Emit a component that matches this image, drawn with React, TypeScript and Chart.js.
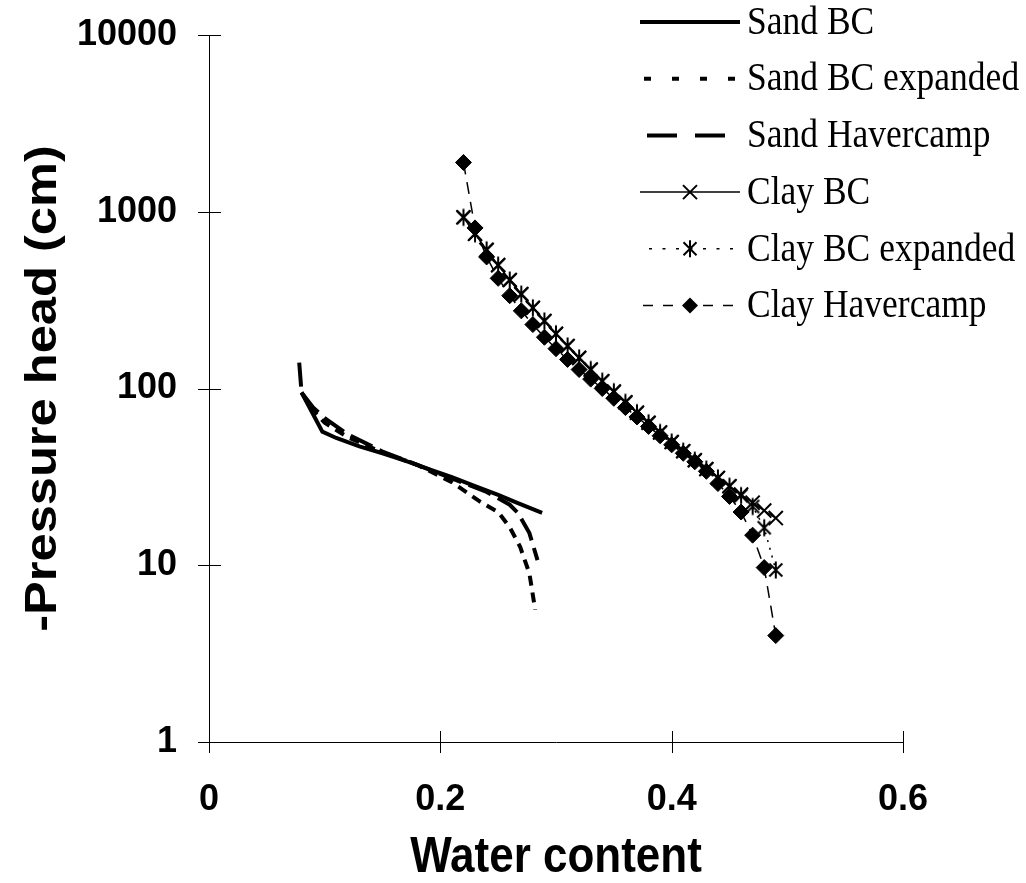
import React, { useEffect, useRef } from 'react';
import { Chart, registerables } from 'chart.js';

Chart.register(...registerables);

// ---------- data ----------
const clayTheta = [
  0.22, 0.23, 0.24, 0.25, 0.26, 0.27, 0.28, 0.29, 0.3, 0.31, 0.32, 0.33, 0.34, 0.35,
  0.36, 0.37, 0.38, 0.39, 0.4, 0.41, 0.42, 0.43, 0.44, 0.45, 0.46, 0.47, 0.48, 0.49,
];
const clayBCHead = [
  930, 750, 609, 499, 411, 342, 286, 241, 204, 174, 149, 128, 110, 96,
  83.5, 73, 64, 56.4, 49.8, 44.2, 39.3, 35, 31.2, 28, 25.1, 22.6, 20.4, 18.5,
];
const clayBCExpHead = [
  930, 750, 609, 499, 411, 342, 286, 241, 204, 174, 149, 128, 110, 96,
  83.5, 73, 64, 56.4, 49.8, 44.2, 39.3, 35, 31.2, 28, 24.8, 21.5, 16.3, 9.4,
];
const clayHavHead = [
  1900, 810, 555, 420, 335, 275, 230, 195, 168, 146, 128, 113, 100, 88,
  78, 69, 61, 54, 48, 43, 38.5, 34, 29, 24.5, 20, 14.8, 9.7, 4,
];

const sandBCTheta = [0.08, 0.098, 0.11, 0.13, 0.15, 0.17, 0.19, 0.21, 0.23, 0.25, 0.266, 0.288];
const sandBCHead = [95, 57, 52.5, 47, 43, 39, 35, 31.5, 28, 25, 22.6, 19.8];

const sandBCExpTheta = [0.08, 0.09, 0.1, 0.12, 0.15, 0.18, 0.21, 0.234, 0.25, 0.26, 0.269, 0.277, 0.282];
const sandBCExpHead = [95, 75, 64, 53, 43.5, 37, 29.5, 23, 20, 16.4, 12.7, 9, 5.6];

const sandHavTheta = [0.078, 0.08, 0.09, 0.1, 0.12, 0.15, 0.18, 0.21, 0.24, 0.26, 0.267, 0.277, 0.284];
const sandHavHead = [140, 95, 78, 68, 55, 44, 37, 31, 26, 22, 19.8, 15.2, 10.7];

const seriesNames = [
  'Sand BC',
  'Sand BC expanded',
  'Sand Havercamp',
  'Clay BC',
  'Clay BC expanded',
  'Clay Havercamp',
];

const xTicks = [0, 0.2, 0.4, 0.6];
const yTicks = [1, 10, 100, 1000, 10000];
const xTitle = 'Water content';
const yTitle = '-Pressure head (cm)';

// ---------- helpers ----------
const pts = (xs: number[], ys: number[]) => xs.map((x, i) => ({ x, y: ys[i] }));

function strokeAsterisk(ctx: CanvasRenderingContext2D, x: number, y: number, d: number, v: number) {
  ctx.moveTo(x - d, y - d);
  ctx.lineTo(x + d, y + d);
  ctx.moveTo(x - d, y + d);
  ctx.lineTo(x + d, y - d);
  ctx.moveTo(x, y - v);
  ctx.lineTo(x, y + v);
}

function makeAsteriskImage(): HTMLCanvasElement {
  const c = document.createElement('canvas');
  c.width = 20;
  c.height = 20;
  const g = c.getContext('2d')!;
  g.strokeStyle = '#000';
  g.lineWidth = 2;
  g.beginPath();
  strokeAsterisk(g, 10, 10, 6.5, 8.5);
  g.stroke();
  return c;
}

function drawMarker(ctx: CanvasRenderingContext2D, style: string, x: number, y: number) {
  ctx.save();
  ctx.setLineDash([]);
  ctx.strokeStyle = '#000';
  ctx.fillStyle = '#000';
  ctx.lineWidth = 2;
  ctx.beginPath();
  if (style === 'cross') {
    const d = 7;
    ctx.moveTo(x - d, y - d);
    ctx.lineTo(x + d, y + d);
    ctx.moveTo(x - d, y + d);
    ctx.lineTo(x + d, y - d);
    ctx.stroke();
  } else if (style === 'asterisk') {
    strokeAsterisk(ctx, x, y, 6.5, 8.5);
    ctx.stroke();
  } else if (style === 'diamond') {
    const r = 8;
    ctx.moveTo(x, y - r);
    ctx.lineTo(x + r, y);
    ctx.lineTo(x, y + r);
    ctx.lineTo(x - r, y);
    ctx.closePath();
    ctx.fill();
  }
  ctx.restore();
}

const SANS = "'Liberation Sans', Arial, sans-serif";
const TITLE_FONT = `bold 44px ${SANS}`;
const LEGEND_FONT = "35.5px 'Liberation Serif', 'Times New Roman', serif";
const STRETCH = 1.15;

const legendMarkers = ['', '', '', 'cross', 'asterisk', 'diamond'];
const legendDash = [[], [7, 21], [30, 18], [], [3, 10.5], [10, 10]];
const legendDashOffset = [0, 24, 41, 0, 4.5, 17];

const decorPlugin = {
  id: 'decor',
  afterDraw(chart: any) {
    const ctx: CanvasRenderingContext2D = chart.ctx;
    const area = chart.chartArea;
    const xs = chart.scales.x;
    const ys = chart.scales.y;
    ctx.save();
    // tick marks crossing the axes
    ctx.strokeStyle = '#000';
    ctx.lineWidth = 1;
    ctx.setLineDash([]);
    ctx.beginPath();
    yTicks.forEach((v) => {
      const py = Math.round(ys.getPixelForValue(v)) + 0.5;
      ctx.moveTo(area.left - 11, py);
      ctx.lineTo(area.left + 12, py);
    });
    xTicks.forEach((v) => {
      const px = Math.round(xs.getPixelForValue(v)) + 0.5;
      ctx.moveTo(px, area.bottom - 11);
      ctx.lineTo(px, area.bottom + 11);
    });
    ctx.stroke();

    // axis titles
    ctx.fillStyle = '#000';
    ctx.font = TITLE_FONT;
    ctx.textAlign = 'center';
    ctx.textBaseline = 'middle';
    ctx.save();
    ctx.translate((area.left + area.right) / 2, 858);
    ctx.scale(1, STRETCH);
    ctx.fillText(xTitle, 0, 0);
    ctx.restore();
    ctx.save();
    ctx.translate(44, (area.top + area.bottom) / 2);
    ctx.rotate(-Math.PI / 2);
    ctx.scale(STRETCH, 1);
    ctx.fillText(yTitle, 0, 0);
    ctx.restore();

    // legend
    ctx.font = LEGEND_FONT;
    ctx.textAlign = 'left';
    ctx.textBaseline = 'middle';
    chart.data.datasets.forEach((ds: any, i: number) => {
      const cy = 22 + i * 56.7;
      const x0 = 640;
      const x1 = 740;
      ctx.save();
      ctx.strokeStyle = '#000';
      ctx.lineWidth = ds.borderWidth;
      ctx.setLineDash(legendDash[i]);
      ctx.lineDashOffset = legendDashOffset[i];
      ctx.beginPath();
      ctx.moveTo(x0, cy);
      ctx.lineTo(x1, cy);
      ctx.stroke();
      ctx.restore();
      if (legendMarkers[i]) drawMarker(ctx, legendMarkers[i], 690, cy);
      ctx.save();
      ctx.translate(747, cy + 1);
      ctx.scale(1, STRETCH);
      ctx.fillText(ds.label, 0, 0);
      ctx.restore();
    });
    ctx.restore();
  },
};

export default function App() {
  const ref = useRef<HTMLCanvasElement | null>(null);

  useEffect(() => {
    if (!ref.current) return;
    const asterisk = makeAsteriskImage();
    const common = { showLine: true, borderColor: '#000', backgroundColor: '#000', pointBorderColor: '#000', pointBackgroundColor: '#000' };
    const chart = new Chart(ref.current, {
      type: 'scatter',
      data: {
        datasets: [
          { ...common, label: seriesNames[0], data: pts(sandBCTheta, sandBCHead), borderWidth: 4, borderDash: [], pointRadius: 0 },
          { ...common, label: seriesNames[1], data: pts(sandBCExpTheta, sandBCExpHead), borderWidth: 4, borderDash: [10, 7], pointRadius: 0 },
          { ...common, label: seriesNames[2], data: pts(sandHavTheta, sandHavHead), borderWidth: 4, borderDash: [24, 8], pointRadius: 0 },
          { ...common, label: seriesNames[3], data: pts(clayTheta, clayBCHead), borderWidth: 1.5, borderDash: [], pointStyle: 'crossRot', pointRadius: 10, pointBorderWidth: 2 },
          { ...common, label: seriesNames[4], data: pts(clayTheta, clayBCExpHead), borderWidth: 1.5, borderDash: [2, 6], pointStyle: asterisk, pointRadius: 9 },
          { ...common, label: seriesNames[5], data: pts(clayTheta, clayHavHead), borderWidth: 1.5, borderDash: [12, 8], pointStyle: 'rectRot', pointRadius: 8, pointBorderWidth: 1 },
        ] as any,
      },
      options: {
        animation: false,
        responsive: true,
        maintainAspectRatio: false,
        layout: { padding: { top: 35, right: 123, left: 0, bottom: 0 } },
        plugins: { legend: { display: false }, tooltip: { enabled: false }, title: { display: false } },
        elements: { line: { tension: 0 } },
        scales: {
          x: {
            type: 'linear',
            min: 0,
            max: 0.6,
            afterBuildTicks: (s: any) => { s.ticks = xTicks.map((v) => ({ value: v })); },
            afterFit: (s: any) => { s.height = 141; s.paddingLeft = 0; s.paddingRight = 0; },
            grid: { display: true, drawOnChartArea: false, drawTicks: false },
            border: { display: true, color: '#000', width: 1 },
            ticks: {
              color: '#000',
              padding: 36,
              font: { family: SANS, size: 36, weight: 'bold' },
              callback: (v: any) => (Number(v) === 0 ? '0' : Number(v).toFixed(1)),
            },
          },
          y: {
            type: 'logarithmic',
            min: 1,
            max: 10000,
            afterBuildTicks: (s: any) => { s.ticks = yTicks.map((v) => ({ value: v })); },
            afterFit: (s: any) => { s.width = 209; s.paddingTop = 0; s.paddingBottom = 0; },
            grid: { display: true, drawOnChartArea: false, drawTicks: false },
            border: { display: true, color: '#000', width: 1 },
            ticks: {
              color: '#000',
              padding: 32,
              font: { family: SANS, size: 36, weight: 'bold' },
              callback: (v: any) => String(v),
            },
          },
        },
      } as any,
      plugins: [decorPlugin],
    });
    return () => chart.destroy();
  }, []);

  return (
    <div style={{ position: 'absolute', left: 0, top: 0, width: 1026, height: 883, background: '#fff' }}>
      <canvas ref={ref} />
    </div>
  );
}
